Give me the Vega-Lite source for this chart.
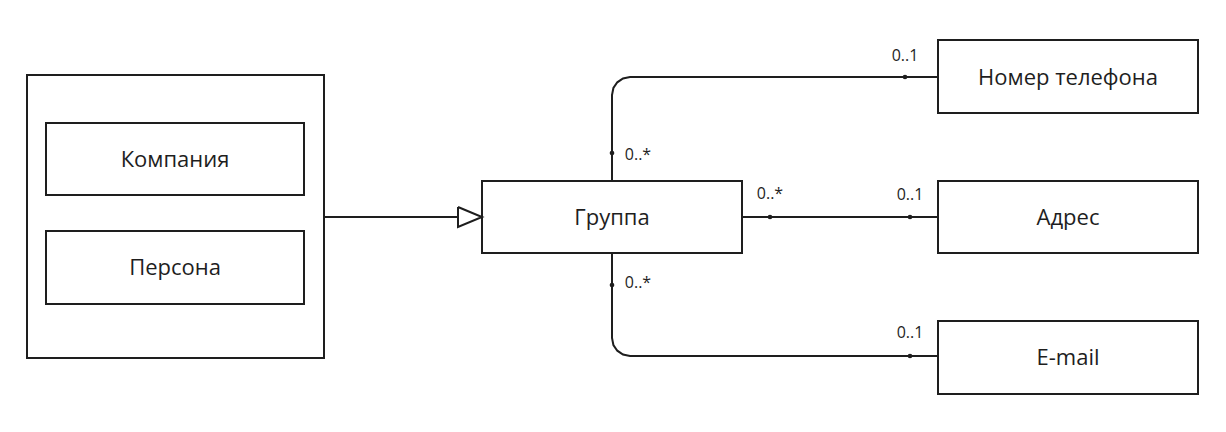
{
  "$schema": "https://vega.github.io/schema/vega-lite/v6.json",
  "width": 1226,
  "height": 432,
  "autosize": {"type": "none"},
  "padding": 0,
  "background": "white",
  "config": {"view": {"stroke": null}},
  "datasets": {
    "boxes": [
      {"x": 27, "x2": 324, "y": 75, "y2": 358},
      {"x": 46, "x2": 304, "y": 123, "y2": 195},
      {"x": 46, "x2": 304, "y": 231, "y2": 304},
      {"x": 482, "x2": 742, "y": 181, "y2": 253},
      {"x": 938, "x2": 1198, "y": 40, "y2": 113},
      {"x": 938, "x2": 1198, "y": 181, "y2": 253},
      {"x": 938, "x2": 1198, "y": 321, "y2": 394}
    ],
    "paths": [
      {"id": "gen", "o": 1, "x": 324, "y": 217},
      {"id": "gen", "o": 2, "x": 458, "y": 217},
      {"id": "tri", "o": 1, "x": 458, "y": 207},
      {"id": "tri", "o": 2, "x": 482, "y": 217},
      {"id": "tri", "o": 3, "x": 458, "y": 227},
      {"id": "tri", "o": 4, "x": 458, "y": 207},
      {"id": "top", "o": 1, "x": 612, "y": 181},
      {"id": "top", "o": 2, "x": 612, "y": 95},
      {"id": "top", "o": 3, "x": 613.4, "y": 88},
      {"id": "top", "o": 4, "x": 617.3, "y": 82.3},
      {"id": "top", "o": 5, "x": 623, "y": 78.4},
      {"id": "top", "o": 6, "x": 630, "y": 77},
      {"id": "top", "o": 7, "x": 938, "y": 77},
      {"id": "mid", "o": 1, "x": 742, "y": 217},
      {"id": "mid", "o": 2, "x": 938, "y": 217},
      {"id": "bot", "o": 1, "x": 612, "y": 253},
      {"id": "bot", "o": 2, "x": 612, "y": 338},
      {"id": "bot", "o": 3, "x": 613.4, "y": 345},
      {"id": "bot", "o": 4, "x": 617.3, "y": 350.7},
      {"id": "bot", "o": 5, "x": 623, "y": 354.6},
      {"id": "bot", "o": 6, "x": 630, "y": 356},
      {"id": "bot", "o": 7, "x": 938, "y": 356}
    ],
    "dots": [
      {"x": 612, "y": 153}, {"x": 905, "y": 77}, {"x": 770, "y": 217},
      {"x": 910, "y": 217}, {"x": 612, "y": 285}, {"x": 910, "y": 356}
    ],
    "labels": [
      {"x": 175, "y": 160, "t": "Компания"},
      {"x": 175, "y": 268, "t": "Персона"},
      {"x": 612, "y": 218, "t": "Группа"},
      {"x": 1068, "y": 78, "t": "Номер телефона"},
      {"x": 1068, "y": 218, "t": "Адрес"},
      {"x": 1068, "y": 358, "t": "E-mail"}
    ],
    "mult": [
      {"x": 905, "y": 56, "t": "0..1"},
      {"x": 638, "y": 155, "t": "0..*"},
      {"x": 770, "y": 194, "t": "0..*"},
      {"x": 910, "y": 195, "t": "0..1"},
      {"x": 638, "y": 283, "t": "0..*"},
      {"x": 910, "y": 333, "t": "0..1"}
    ]
  },
  "layer": [
    {
      "data": {"name": "boxes"},
      "mark": {"type": "rect", "fill": "white", "stroke": "#1e1e1e", "strokeWidth": 2},
      "encoding": {
        "x": {"field": "x", "type": "quantitative", "scale": {"domain": [0, 1226], "nice": false, "zero": false}, "axis": null},
        "x2": {"field": "x2"},
        "y": {"field": "y", "type": "quantitative", "scale": {"domain": [0, 432], "nice": false, "zero": false, "reverse": true}, "axis": null},
        "y2": {"field": "y2"}
      }
    },
    {
      "data": {"name": "paths"},
      "mark": {"type": "line", "color": "#1e1e1e", "strokeWidth": 2},
      "encoding": {
        "x": {"field": "x", "type": "quantitative"},
        "y": {"field": "y", "type": "quantitative"},
        "detail": {"field": "id"},
        "order": {"field": "o"}
      }
    },
    {
      "data": {"name": "dots"},
      "mark": {"type": "point", "filled": true, "color": "#1e1e1e", "size": 22, "opacity": 1},
      "encoding": {
        "x": {"field": "x", "type": "quantitative"},
        "y": {"field": "y", "type": "quantitative"}
      }
    },
    {
      "data": {"name": "labels"},
      "mark": {"type": "text", "font": "Open Sans", "fontSize": 22, "color": "#1e1e1e"},
      "encoding": {
        "x": {"field": "x", "type": "quantitative"},
        "y": {"field": "y", "type": "quantitative"},
        "text": {"field": "t"}
      }
    },
    {
      "data": {"name": "mult"},
      "mark": {"type": "text", "font": "Open Sans", "fontSize": 16, "color": "#1e1e1e"},
      "encoding": {
        "x": {"field": "x", "type": "quantitative"},
        "y": {"field": "y", "type": "quantitative"},
        "text": {"field": "t"}
      }
    }
  ]
}
